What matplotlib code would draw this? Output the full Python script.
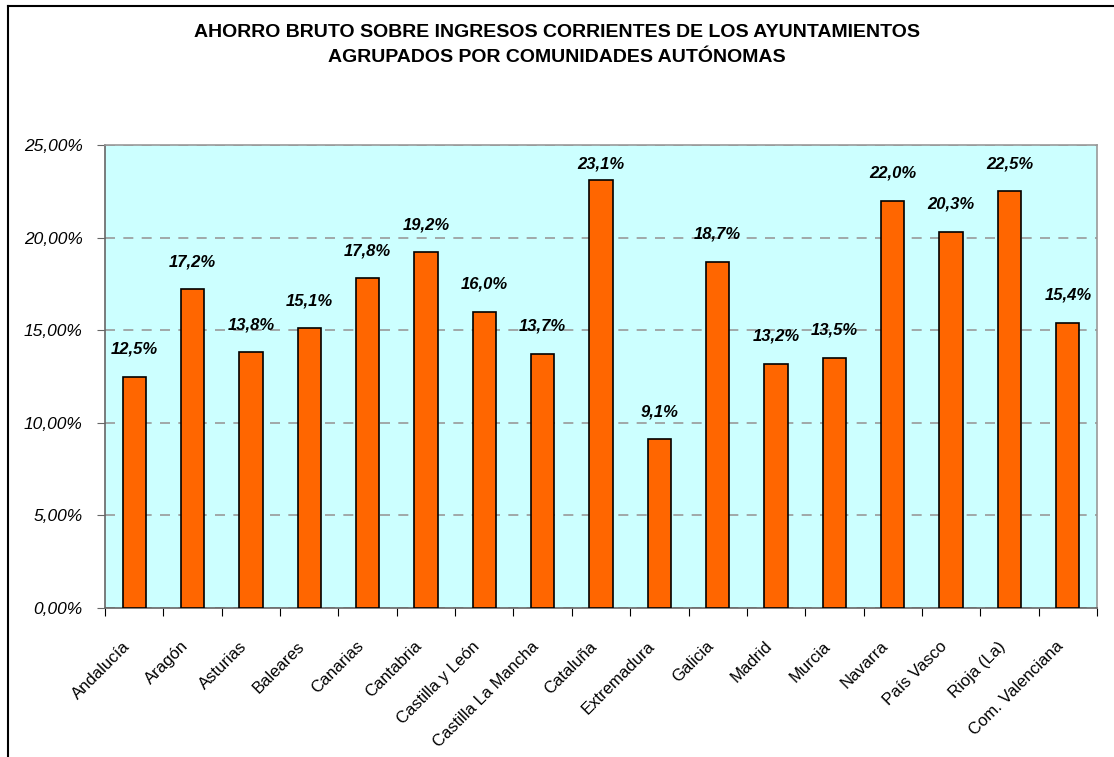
import matplotlib
matplotlib.use("Agg")
import matplotlib.pyplot as plt
from matplotlib.lines import Line2D
from matplotlib.transforms import ScaledTranslation
from matplotlib import font_manager

categories = ["Andalucía", "Aragón", "Asturias", "Baleares", "Canarias", "Cantabria",
              "Castilla y León", "Castilla La Mancha", "Cataluña", "Extremadura",
              "Galicia", "Madrid", "Murcia", "Navarra", "País Vasco", "Rioja (La)",
              "Com. Valenciana"]
values = [12.5, 17.2, 13.8, 15.1, 17.8, 19.2, 16.0, 13.7, 23.1, 9.1,
          18.7, 13.2, 13.5, 22.0, 20.3, 22.5, 15.4]
yticks = [0, 5, 10, 15, 20, 25]
title = "AHORRO BRUTO SOBRE INGRESOS CORRIENTES DE LOS AYUNTAMIENTOS\nAGRUPADOS POR COMUNIDADES AUTÓNOMAS"

names = {f.name for f in font_manager.fontManager.ttflist}
narrow = "Liberation Sans Narrow" if "Liberation Sans Narrow" in names else "Liberation Sans"
plt.rcParams['font.family'] = [narrow, "DejaVu Sans"]

W, H = 1114, 757
fig = plt.figure(figsize=(W / 100, H / 100), dpi=100)
ax = fig.add_axes([105 / W, 1 - 608 / H, (1097 - 105) / W, (608 - 145) / H])
ax.set_facecolor("#CCFFFF")

x = list(range(len(categories)))
ax.bar(x, values, width=0.4, color="#FF6600", edgecolor="black", linewidth=1.2, zorder=3)
for xi, v in zip(x, values):
    ax.text(xi, min(v + 1.5, 24.0), f"{v:.1f}%".replace(".", ","), ha="center", va="center",
            fontsize=12, fontweight="bold", fontstyle="italic", zorder=4)

ax.set_xlim(-0.5, len(categories) - 0.5)
ax.set_ylim(0, 25)
ax.set_yticks(yticks)
ax.set_yticklabels([f"{t:.2f}%".replace(".", ",") for t in yticks], fontsize=12.5, fontstyle="italic")
ax.yaxis.grid(True, linestyle=(0, (6, 5)), color="#999999", linewidth=1.2, zorder=1)

ax.set_xticks([i - 0.5 for i in range(len(categories) + 1)], minor=False)
ax.set_xticklabels([""] * (len(categories) + 1))
ax.set_xticks(x, minor=True)
ax.set_xticklabels(categories, minor=True, rotation=45, ha="right", rotation_mode="anchor",
                   fontsize=12)
ax.tick_params(axis="x", which="minor", length=0, pad=22)
ax.tick_params(axis="x", which="major", length=6, direction="out", color="black")
ax.tick_params(axis="y", length=6, direction="out", color="#666666", pad=10)
shift = ScaledTranslation(-12 / 100, 0, fig.dpi_scale_trans)
for lbl in ax.get_xticklabels(minor=True):
    lbl.set_transform(lbl.get_transform() + shift)

for s in ["left", "bottom"]:
    ax.spines[s].set_color("#666666")
    ax.spines[s].set_linewidth(1.2)
for s in ["top", "right"]:
    ax.spines[s].set_color("#999999")
    ax.spines[s].set_linewidth(1.2)

fig.text(0.5, 1 - 45 / H, title, ha="center", va="center", fontsize=14,
         fontweight="bold", linespacing=1.6)

fig.add_artist(Line2D([8 / W, 1.0], [1 - 6 / H, 1 - 6 / H], color="black", linewidth=1.5,
                      transform=fig.transFigure))
fig.add_artist(Line2D([8 / W, 8 / W], [1 - 6 / H, 0.0], color="black", linewidth=1.5,
                      transform=fig.transFigure))

fig.savefig("out.png", dpi=100)
